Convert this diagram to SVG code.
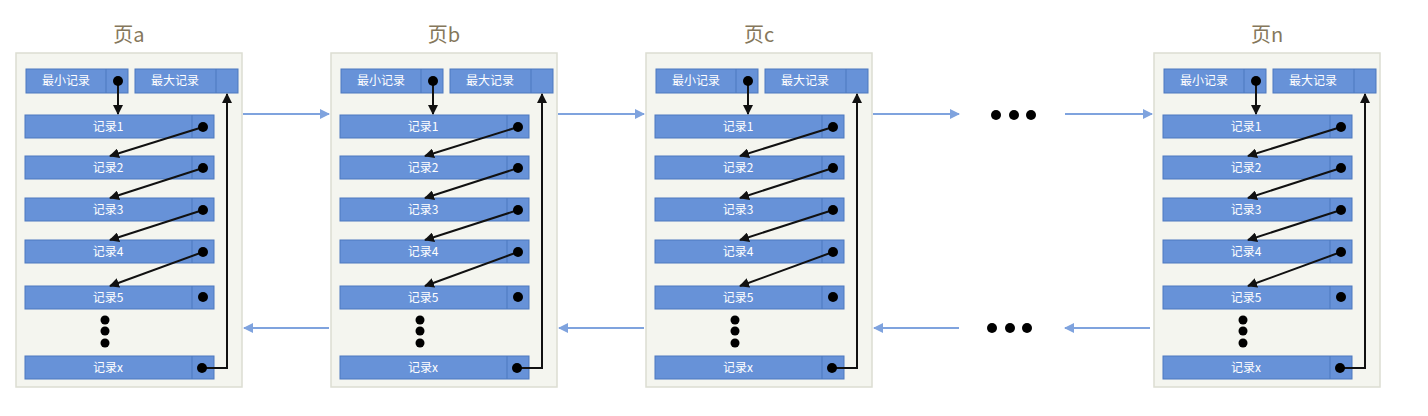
<svg xmlns="http://www.w3.org/2000/svg" width="1428" height="416" viewBox="0 0 1428 416">
<style>
.bg{fill:#ffffff}
.page{fill:#f4f5ef;stroke:#dcddd2;stroke-width:1.5}
.title{font-family:"Noto Sans CJK SC","Noto Sans",sans-serif;font-size:20px;fill:#85775b;text-anchor:middle}
.box{fill:#6792d8;stroke:#4d78bf;stroke-width:1}
.div{stroke:#4d78bf;stroke-width:1}
.lbl{font-family:"Noto Sans CJK SC","Noto Sans",sans-serif;font-size:12px;fill:#ffffff;text-anchor:middle}
.dot{fill:#000000}
.ptr{fill:none;stroke:#111111;stroke-width:2}
.link{fill:none;stroke:#7fa3de;stroke-width:2}
</style>
<defs>
<marker id="ah" viewBox="0 0 10 10" refX="9" refY="5" markerWidth="5" markerHeight="5" orient="auto"><path d="M0,0 L10,5 L0,10 z" fill="#111111"/></marker>
<marker id="bh" viewBox="0 0 10 10" refX="9" refY="5" markerWidth="5" markerHeight="5" orient="auto"><path d="M0,0 L10,5 L0,10 z" fill="#7fa3de"/></marker>
</defs>
<rect class="bg" x="0" y="0" width="1428" height="416"/>

<g id="page-a">
<rect class="page" x="16" y="53" width="226" height="334"/>
<text class="title" x="129" y="42">页a</text>
<rect class="box" x="26" y="69" width="102" height="24"/><line class="div" x1="106" y1="69" x2="106" y2="93"/><text class="lbl" x="66" y="85">最小记录</text>
<rect class="box" x="135" y="69" width="103" height="24"/><line class="div" x1="216" y1="69" x2="216" y2="93"/><text class="lbl" x="175" y="85">最大记录</text>
<rect class="box" x="25" y="115" width="189" height="23"/><line class="div" x1="192" y1="115" x2="192" y2="138"/><text class="lbl" x="108" y="131">记录1</text>
<rect class="box" x="25" y="156" width="189" height="23"/><line class="div" x1="192" y1="156" x2="192" y2="179"/><text class="lbl" x="108" y="172">记录2</text>
<rect class="box" x="25" y="198" width="189" height="23"/><line class="div" x1="192" y1="198" x2="192" y2="221"/><text class="lbl" x="108" y="214">记录3</text>
<rect class="box" x="25" y="240" width="189" height="23"/><line class="div" x1="192" y1="240" x2="192" y2="263"/><text class="lbl" x="108" y="256">记录4</text>
<rect class="box" x="25" y="286" width="189" height="23"/><line class="div" x1="192" y1="286" x2="192" y2="309"/><text class="lbl" x="108" y="302">记录5</text>
<rect class="box" x="25" y="356" width="189" height="23"/><line class="div" x1="192" y1="356" x2="192" y2="379"/><text class="lbl" x="108" y="372">记录x</text>
<circle class="dot" cx="105" cy="320" r="4.5"/><circle class="dot" cx="105" cy="331" r="4.5"/><circle class="dot" cx="105" cy="343" r="4.5"/>
</g>

<g id="page-b">
<rect class="page" x="331" y="53" width="226" height="334"/>
<text class="title" x="444" y="42">页b</text>
<rect class="box" x="341" y="69" width="102" height="24"/><line class="div" x1="421" y1="69" x2="421" y2="93"/><text class="lbl" x="381" y="85">最小记录</text>
<rect class="box" x="450" y="69" width="103" height="24"/><line class="div" x1="531" y1="69" x2="531" y2="93"/><text class="lbl" x="490" y="85">最大记录</text>
<rect class="box" x="340" y="115" width="189" height="23"/><line class="div" x1="507" y1="115" x2="507" y2="138"/><text class="lbl" x="423" y="131">记录1</text>
<rect class="box" x="340" y="156" width="189" height="23"/><line class="div" x1="507" y1="156" x2="507" y2="179"/><text class="lbl" x="423" y="172">记录2</text>
<rect class="box" x="340" y="198" width="189" height="23"/><line class="div" x1="507" y1="198" x2="507" y2="221"/><text class="lbl" x="423" y="214">记录3</text>
<rect class="box" x="340" y="240" width="189" height="23"/><line class="div" x1="507" y1="240" x2="507" y2="263"/><text class="lbl" x="423" y="256">记录4</text>
<rect class="box" x="340" y="286" width="189" height="23"/><line class="div" x1="507" y1="286" x2="507" y2="309"/><text class="lbl" x="423" y="302">记录5</text>
<rect class="box" x="340" y="356" width="189" height="23"/><line class="div" x1="507" y1="356" x2="507" y2="379"/><text class="lbl" x="423" y="372">记录x</text>
<circle class="dot" cx="420" cy="320" r="4.5"/><circle class="dot" cx="420" cy="331" r="4.5"/><circle class="dot" cx="420" cy="343" r="4.5"/>
</g>

<g id="page-c">
<rect class="page" x="646" y="53" width="226" height="334"/>
<text class="title" x="759" y="42">页c</text>
<rect class="box" x="656" y="69" width="102" height="24"/><line class="div" x1="736" y1="69" x2="736" y2="93"/><text class="lbl" x="696" y="85">最小记录</text>
<rect class="box" x="765" y="69" width="103" height="24"/><line class="div" x1="846" y1="69" x2="846" y2="93"/><text class="lbl" x="805" y="85">最大记录</text>
<rect class="box" x="655" y="115" width="189" height="23"/><line class="div" x1="822" y1="115" x2="822" y2="138"/><text class="lbl" x="738" y="131">记录1</text>
<rect class="box" x="655" y="156" width="189" height="23"/><line class="div" x1="822" y1="156" x2="822" y2="179"/><text class="lbl" x="738" y="172">记录2</text>
<rect class="box" x="655" y="198" width="189" height="23"/><line class="div" x1="822" y1="198" x2="822" y2="221"/><text class="lbl" x="738" y="214">记录3</text>
<rect class="box" x="655" y="240" width="189" height="23"/><line class="div" x1="822" y1="240" x2="822" y2="263"/><text class="lbl" x="738" y="256">记录4</text>
<rect class="box" x="655" y="286" width="189" height="23"/><line class="div" x1="822" y1="286" x2="822" y2="309"/><text class="lbl" x="738" y="302">记录5</text>
<rect class="box" x="655" y="356" width="189" height="23"/><line class="div" x1="822" y1="356" x2="822" y2="379"/><text class="lbl" x="738" y="372">记录x</text>
<circle class="dot" cx="735" cy="320" r="4.5"/><circle class="dot" cx="735" cy="331" r="4.5"/><circle class="dot" cx="735" cy="343" r="4.5"/>
</g>

<g id="page-n">
<rect class="page" x="1154" y="53" width="226" height="334"/>
<text class="title" x="1267" y="42">页n</text>
<rect class="box" x="1164" y="69" width="102" height="24"/><line class="div" x1="1244" y1="69" x2="1244" y2="93"/><text class="lbl" x="1204" y="85">最小记录</text>
<rect class="box" x="1273" y="69" width="103" height="24"/><line class="div" x1="1354" y1="69" x2="1354" y2="93"/><text class="lbl" x="1313" y="85">最大记录</text>
<rect class="box" x="1163" y="115" width="189" height="23"/><line class="div" x1="1330" y1="115" x2="1330" y2="138"/><text class="lbl" x="1246" y="131">记录1</text>
<rect class="box" x="1163" y="156" width="189" height="23"/><line class="div" x1="1330" y1="156" x2="1330" y2="179"/><text class="lbl" x="1246" y="172">记录2</text>
<rect class="box" x="1163" y="198" width="189" height="23"/><line class="div" x1="1330" y1="198" x2="1330" y2="221"/><text class="lbl" x="1246" y="214">记录3</text>
<rect class="box" x="1163" y="240" width="189" height="23"/><line class="div" x1="1330" y1="240" x2="1330" y2="263"/><text class="lbl" x="1246" y="256">记录4</text>
<rect class="box" x="1163" y="286" width="189" height="23"/><line class="div" x1="1330" y1="286" x2="1330" y2="309"/><text class="lbl" x="1246" y="302">记录5</text>
<rect class="box" x="1163" y="356" width="189" height="23"/><line class="div" x1="1330" y1="356" x2="1330" y2="379"/><text class="lbl" x="1246" y="372">记录x</text>
<circle class="dot" cx="1243" cy="320" r="4.5"/><circle class="dot" cx="1243" cy="331" r="4.5"/><circle class="dot" cx="1243" cy="343" r="4.5"/>
</g>

<g id="ellipsis">
<circle class="dot" cx="996" cy="115" r="5"/><circle class="dot" cx="1014" cy="115" r="5"/><circle class="dot" cx="1031" cy="115" r="5"/>
<circle class="dot" cx="992" cy="328" r="5"/><circle class="dot" cx="1010" cy="328" r="5"/><circle class="dot" cx="1027" cy="328" r="5"/>
</g>

<g id="connectors">
<g id="ptrs-a">
<line class="ptr" x1="118" y1="81" x2="118" y2="114" marker-end="url(#ah)"/>
<line class="ptr" x1="203" y1="127" x2="110" y2="156" marker-end="url(#ah)"/>
<line class="ptr" x1="203" y1="168" x2="110" y2="198" marker-end="url(#ah)"/>
<line class="ptr" x1="203" y1="210" x2="110" y2="240" marker-end="url(#ah)"/>
<line class="ptr" x1="203" y1="252" x2="110" y2="286" marker-end="url(#ah)"/>
<path class="ptr" d="M202,368 H227 V94" marker-end="url(#ah)"/>
<circle class="dot" cx="118" cy="81" r="5"/><circle class="dot" cx="203" cy="127" r="5"/><circle class="dot" cx="203" cy="168" r="5"/><circle class="dot" cx="203" cy="210" r="5"/><circle class="dot" cx="203" cy="252" r="5"/><circle class="dot" cx="203" cy="297" r="5"/><circle class="dot" cx="202" cy="368" r="5"/>
</g>
<g id="ptrs-b" transform="translate(315,0)">
<line class="ptr" x1="118" y1="81" x2="118" y2="114" marker-end="url(#ah)"/>
<line class="ptr" x1="203" y1="127" x2="110" y2="156" marker-end="url(#ah)"/>
<line class="ptr" x1="203" y1="168" x2="110" y2="198" marker-end="url(#ah)"/>
<line class="ptr" x1="203" y1="210" x2="110" y2="240" marker-end="url(#ah)"/>
<line class="ptr" x1="203" y1="252" x2="110" y2="286" marker-end="url(#ah)"/>
<path class="ptr" d="M202,368 H227 V94" marker-end="url(#ah)"/>
<circle class="dot" cx="118" cy="81" r="5"/><circle class="dot" cx="203" cy="127" r="5"/><circle class="dot" cx="203" cy="168" r="5"/><circle class="dot" cx="203" cy="210" r="5"/><circle class="dot" cx="203" cy="252" r="5"/><circle class="dot" cx="203" cy="297" r="5"/><circle class="dot" cx="202" cy="368" r="5"/>
</g>
<g id="ptrs-c" transform="translate(630,0)">
<line class="ptr" x1="118" y1="81" x2="118" y2="114" marker-end="url(#ah)"/>
<line class="ptr" x1="203" y1="127" x2="110" y2="156" marker-end="url(#ah)"/>
<line class="ptr" x1="203" y1="168" x2="110" y2="198" marker-end="url(#ah)"/>
<line class="ptr" x1="203" y1="210" x2="110" y2="240" marker-end="url(#ah)"/>
<line class="ptr" x1="203" y1="252" x2="110" y2="286" marker-end="url(#ah)"/>
<path class="ptr" d="M202,368 H227 V94" marker-end="url(#ah)"/>
<circle class="dot" cx="118" cy="81" r="5"/><circle class="dot" cx="203" cy="127" r="5"/><circle class="dot" cx="203" cy="168" r="5"/><circle class="dot" cx="203" cy="210" r="5"/><circle class="dot" cx="203" cy="252" r="5"/><circle class="dot" cx="203" cy="297" r="5"/><circle class="dot" cx="202" cy="368" r="5"/>
</g>
<g id="ptrs-n" transform="translate(1138,0)">
<line class="ptr" x1="118" y1="81" x2="118" y2="114" marker-end="url(#ah)"/>
<line class="ptr" x1="203" y1="127" x2="110" y2="156" marker-end="url(#ah)"/>
<line class="ptr" x1="203" y1="168" x2="110" y2="198" marker-end="url(#ah)"/>
<line class="ptr" x1="203" y1="210" x2="110" y2="240" marker-end="url(#ah)"/>
<line class="ptr" x1="203" y1="252" x2="110" y2="286" marker-end="url(#ah)"/>
<path class="ptr" d="M202,368 H227 V94" marker-end="url(#ah)"/>
<circle class="dot" cx="118" cy="81" r="5"/><circle class="dot" cx="203" cy="127" r="5"/><circle class="dot" cx="203" cy="168" r="5"/><circle class="dot" cx="203" cy="210" r="5"/><circle class="dot" cx="203" cy="252" r="5"/><circle class="dot" cx="203" cy="297" r="5"/><circle class="dot" cx="202" cy="368" r="5"/>
</g>
<g id="links">
<line class="link" x1="243" y1="114" x2="329" y2="114" marker-end="url(#bh)"/>
<line class="link" x1="558" y1="114" x2="644" y2="114" marker-end="url(#bh)"/>
<line class="link" x1="873" y1="114" x2="959" y2="114" marker-end="url(#bh)"/>
<line class="link" x1="1065" y1="114" x2="1152" y2="114" marker-end="url(#bh)"/>
<line class="link" x1="329" y1="328" x2="244" y2="328" marker-end="url(#bh)"/>
<line class="link" x1="644" y1="328" x2="559" y2="328" marker-end="url(#bh)"/>
<line class="link" x1="959" y1="328" x2="874" y2="328" marker-end="url(#bh)"/>
<line class="link" x1="1150" y1="328" x2="1065" y2="328" marker-end="url(#bh)"/>
</g>
</g>
</svg>
